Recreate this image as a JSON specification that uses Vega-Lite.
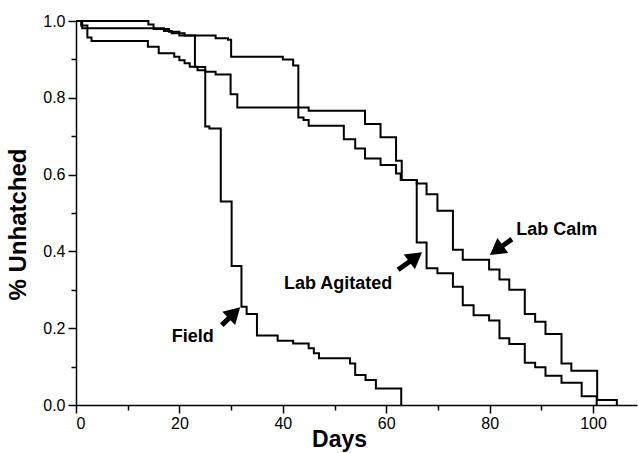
{
  "$schema": "https://vega.github.io/schema/vega-lite/v6.json",
  "width": 561,
  "height": 384,
  "autosize": "none",
  "padding": {"left": 76, "top": 21, "right": 1, "bottom": 48},
  "background": "white",
  "config": {
    "view": {"stroke": null},
    "font": "Liberation Sans",
    "axis": {"domainColor": "black", "tickColor": "black", "labelColor": "black", "titleColor": "black", "grid": false, "labelFont": "Liberation Sans", "titleFont": "Liberation Sans", "domainWidth": 1.5, "tickWidth": 1.5}
  },
  "datasets": {
    "curves": [
      {"series": "Lab Calm", "day": 0, "p": 1.0},
      {"series": "Lab Calm", "day": 14, "p": 0.991},
      {"series": "Lab Calm", "day": 15, "p": 0.979},
      {"series": "Lab Calm", "day": 18, "p": 0.972},
      {"series": "Lab Calm", "day": 20, "p": 0.962},
      {"series": "Lab Calm", "day": 27, "p": 0.955},
      {"series": "Lab Calm", "day": 29.4, "p": 0.951},
      {"series": "Lab Calm", "day": 30, "p": 0.907},
      {"series": "Lab Calm", "day": 40, "p": 0.9},
      {"series": "Lab Calm", "day": 42, "p": 0.884},
      {"series": "Lab Calm", "day": 43, "p": 0.749},
      {"series": "Lab Calm", "day": 44, "p": 0.742},
      {"series": "Lab Calm", "day": 45, "p": 0.727},
      {"series": "Lab Calm", "day": 51.8, "p": 0.692},
      {"series": "Lab Calm", "day": 54, "p": 0.668},
      {"series": "Lab Calm", "day": 55.9, "p": 0.642},
      {"series": "Lab Calm", "day": 58.9, "p": 0.625},
      {"series": "Lab Calm", "day": 61.9, "p": 0.603},
      {"series": "Lab Calm", "day": 62.8, "p": 0.586},
      {"series": "Lab Calm", "day": 65.9, "p": 0.577},
      {"series": "Lab Calm", "day": 67.8, "p": 0.549},
      {"series": "Lab Calm", "day": 69.9, "p": 0.506},
      {"series": "Lab Calm", "day": 72.9, "p": 0.404},
      {"series": "Lab Calm", "day": 74.8, "p": 0.378},
      {"series": "Lab Calm", "day": 79.9, "p": 0.353},
      {"series": "Lab Calm", "day": 81.9, "p": 0.327},
      {"series": "Lab Calm", "day": 83.8, "p": 0.3},
      {"series": "Lab Calm", "day": 86.8, "p": 0.237},
      {"series": "Lab Calm", "day": 88.8, "p": 0.217},
      {"series": "Lab Calm", "day": 90.8, "p": 0.185},
      {"series": "Lab Calm", "day": 93.9, "p": 0.108},
      {"series": "Lab Calm", "day": 95.8, "p": 0.089},
      {"series": "Lab Calm", "day": 100.8, "p": 0.013},
      {"series": "Lab Calm", "day": 104.6, "p": 0.0},
      {"series": "Lab Agitated", "day": 0, "p": 1.0},
      {"series": "Lab Agitated", "day": 1.2, "p": 0.981},
      {"series": "Lab Agitated", "day": 17, "p": 0.974},
      {"series": "Lab Agitated", "day": 18.5, "p": 0.968},
      {"series": "Lab Agitated", "day": 21, "p": 0.962},
      {"series": "Lab Agitated", "day": 23, "p": 0.88},
      {"series": "Lab Agitated", "day": 25, "p": 0.868},
      {"series": "Lab Agitated", "day": 27, "p": 0.861},
      {"series": "Lab Agitated", "day": 29.9, "p": 0.809},
      {"series": "Lab Agitated", "day": 31.2, "p": 0.775},
      {"series": "Lab Agitated", "day": 45, "p": 0.766},
      {"series": "Lab Agitated", "day": 55.9, "p": 0.732},
      {"series": "Lab Agitated", "day": 58.9, "p": 0.697},
      {"series": "Lab Agitated", "day": 61.9, "p": 0.636},
      {"series": "Lab Agitated", "day": 63, "p": 0.586},
      {"series": "Lab Agitated", "day": 65.9, "p": 0.423},
      {"series": "Lab Agitated", "day": 67.8, "p": 0.356},
      {"series": "Lab Agitated", "day": 69.9, "p": 0.343},
      {"series": "Lab Agitated", "day": 72.9, "p": 0.308},
      {"series": "Lab Agitated", "day": 74.8, "p": 0.26},
      {"series": "Lab Agitated", "day": 76.9, "p": 0.234},
      {"series": "Lab Agitated", "day": 79.9, "p": 0.22},
      {"series": "Lab Agitated", "day": 81.9, "p": 0.174},
      {"series": "Lab Agitated", "day": 83.8, "p": 0.159},
      {"series": "Lab Agitated", "day": 86.8, "p": 0.11},
      {"series": "Lab Agitated", "day": 88.8, "p": 0.098},
      {"series": "Lab Agitated", "day": 90.8, "p": 0.076},
      {"series": "Lab Agitated", "day": 93.9, "p": 0.058},
      {"series": "Lab Agitated", "day": 97.8, "p": 0.023},
      {"series": "Lab Agitated", "day": 100.7, "p": 0.0},
      {"series": "Field", "day": 0, "p": 1.0},
      {"series": "Field", "day": 1, "p": 0.988},
      {"series": "Field", "day": 2.2, "p": 0.957},
      {"series": "Field", "day": 3, "p": 0.948},
      {"series": "Field", "day": 13.9, "p": 0.933},
      {"series": "Field", "day": 16, "p": 0.916},
      {"series": "Field", "day": 19, "p": 0.907},
      {"series": "Field", "day": 20, "p": 0.898},
      {"series": "Field", "day": 21, "p": 0.89},
      {"series": "Field", "day": 22, "p": 0.881},
      {"series": "Field", "day": 23.5, "p": 0.872},
      {"series": "Field", "day": 25, "p": 0.725},
      {"series": "Field", "day": 25.8, "p": 0.72},
      {"series": "Field", "day": 28, "p": 0.53},
      {"series": "Field", "day": 30.1, "p": 0.362},
      {"series": "Field", "day": 32, "p": 0.256},
      {"series": "Field", "day": 33, "p": 0.237},
      {"series": "Field", "day": 35, "p": 0.181},
      {"series": "Field", "day": 39, "p": 0.167},
      {"series": "Field", "day": 42, "p": 0.16},
      {"series": "Field", "day": 45, "p": 0.148},
      {"series": "Field", "day": 46, "p": 0.135},
      {"series": "Field", "day": 47, "p": 0.122},
      {"series": "Field", "day": 53, "p": 0.108},
      {"series": "Field", "day": 54, "p": 0.078},
      {"series": "Field", "day": 56, "p": 0.065},
      {"series": "Field", "day": 58, "p": 0.043},
      {"series": "Field", "day": 62.9, "p": 0.0}
    ],
    "arrows": [
      {"label": "Lab Calm", "tday": 84.3, "tp": 0.432, "hday": 81.3, "hp": 0.403, "angle": 234},
      {"label": "Lab Agitated", "tday": 62.3, "tp": 0.352, "hday": 65.7, "hp": 0.385, "angle": 53},
      {"label": "Field", "tday": 28.2, "tp": 0.208, "hday": 30.65, "hp": 0.240, "angle": 46}
    ],
    "labels": [
      {"text": "Lab Calm", "day": 93.0, "p": 0.457},
      {"text": "Lab Agitated", "day": 50.7, "p": 0.314},
      {"text": "Field", "day": 22.6, "p": 0.177}
    ]
  },
  "layer": [
    {
      "data": {"name": "curves"},
      "mark": {"type": "line", "interpolate": "step-after", "stroke": "black", "strokeWidth": 2},
      "encoding": {
        "x": {"field": "day", "type": "quantitative", "scale": {"domain": [0, 108.5], "nice": false, "zero": false},
          "axis": {"orient": "bottom", "values": [0, 20, 40, 60, 80, 100], "tickSize": 8, "labelFontSize": 16, "labelPadding": 2, "title": "Days", "titleFontSize": 23, "titleFontWeight": "bold", "titlePadding": -3, "titleX": 263}},
        "y": {"field": "p", "type": "quantitative", "scale": {"domain": [0, 1], "nice": false},
          "axis": {"orient": "left", "values": [0, 0.2, 0.4, 0.6, 0.8, 1.0], "format": ".1f", "tickSize": 8, "labelFontSize": 16, "labelPadding": 3, "title": "% Unhatched", "titleFontSize": 24, "titleFontWeight": "bold", "titlePadding": 12, "titleY": 203}},
        "detail": {"field": "series", "type": "nominal"}
      }
    },
    {
      "data": {"name": "curves"},
      "mark": {"type": "line", "opacity": 0},
      "encoding": {
        "x": {"field": "day", "type": "quantitative", "axis": {"orient": "bottom", "values": [10, 30, 50, 70, 90], "tickSize": 5, "labels": false, "domain": false, "title": null}},
        "y": {"field": "p", "type": "quantitative", "axis": {"orient": "left", "values": [0.1, 0.3, 0.5, 0.7, 0.9], "tickSize": 5, "labels": false, "domain": false, "title": null}},
        "detail": {"field": "series", "type": "nominal"}
      }
    },
    {
      "data": {"name": "arrows"},
      "mark": {"type": "rule", "stroke": "black", "strokeWidth": 5},
      "encoding": {
        "x": {"field": "tday", "type": "quantitative", "axis": null},
        "y": {"field": "tp", "type": "quantitative", "axis": null},
        "x2": {"field": "hday"},
        "y2": {"field": "hp"}
      }
    },
    {
      "data": {"name": "arrows"},
      "mark": {"type": "point", "shape": "triangle-up", "filled": true, "fill": "black", "stroke": null, "opacity": 1, "size": 340},
      "encoding": {
        "x": {"field": "hday", "type": "quantitative", "axis": null},
        "y": {"field": "hp", "type": "quantitative", "axis": null},
        "angle": {"field": "angle", "type": "quantitative", "scale": null}
      }
    },
    {
      "data": {"name": "labels"},
      "mark": {"type": "text", "fontWeight": "bold", "fontSize": 18, "font": "Liberation Sans", "align": "center", "baseline": "middle", "fill": "black"},
      "encoding": {
        "x": {"field": "day", "type": "quantitative", "axis": null},
        "y": {"field": "p", "type": "quantitative", "axis": null},
        "text": {"field": "text"}
      }
    }
  ],
  "resolve": {"axis": {"x": "independent", "y": "independent"}}
}
